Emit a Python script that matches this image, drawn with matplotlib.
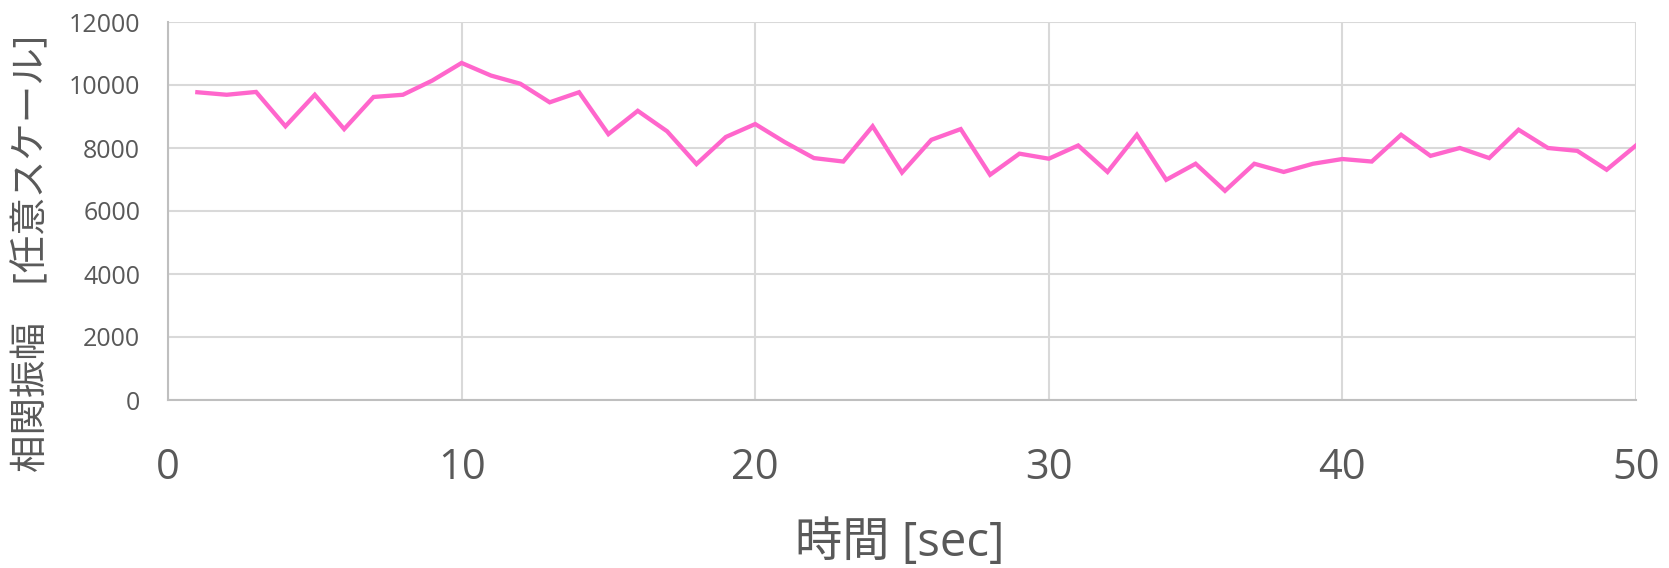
import matplotlib
matplotlib.use("Agg")
import matplotlib.pyplot as plt

plt.rcParams['font.family'] = ['Open Sans', 'Noto Sans CJK JP', 'DejaVu Sans']

# correlation amplitude sampled once per second
time_sec = list(range(1, 51))
amplitude = [
    9770, 9690, 9780, 8690, 9690, 8600, 9620, 9690, 10140, 10700,
    10300, 10040, 9450, 9770, 8440, 9180, 8530, 7490, 8350, 8760,
    8190, 7680, 7570, 8690, 7220, 8260, 8600, 7150, 7820, 7660,
    8080, 7240, 8420, 6990, 7500, 6640, 7500, 7240, 7500, 7650,
    7570, 8420, 7750, 8000, 7680, 8580, 8000, 7910, 7310, 8080,
]
x_ticks = [0, 10, 20, 30, 40, 50]
y_ticks = [0, 2000, 4000, 6000, 8000, 10000, 12000]

text_color = "#595959"
grid_color = "#d9d9d9"

W, H = 1669, 568
fig = plt.figure(figsize=(W / 100, H / 100), dpi=100)
left, right, top, bottom = 168, 1636, 22, 400
ax = fig.add_axes([left / W, 1 - bottom / H, (right - left) / W, (bottom - top) / H])

ax.plot(time_sec, amplitude, color="#ff66cc", linewidth=3.1, solid_joinstyle="miter", zorder=3)

ax.set_xlim(0, 50)
ax.set_ylim(0, 12000)
ax.set_xticks(x_ticks)
ax.set_yticks(y_ticks)
ax.grid(True, color=grid_color, linewidth=1.5)
ax.set_axisbelow(True)

for side in ["top", "right"]:
    ax.spines[side].set_visible(False)
for side in ["left", "bottom"]:
    ax.spines[side].set_color("#bfbfbf")
    ax.spines[side].set_linewidth(1.5)

ax.tick_params(axis="x", length=0, pad=34, labelsize=30, labelcolor=text_color)
ax.tick_params(axis="y", length=0, pad=20, labelsize=18, labelcolor=text_color)

fig.text(900 / W, 1 - 543 / H, "時間 [sec]", ha="center", va="center",
         fontsize=34, color=text_color)
fig.text(32 / W, 1 - 253 / H, "相関振幅　[任意スケール]", ha="center", va="center",
         rotation=90, fontsize=27, color=text_color)

fig.savefig("out.png", dpi=100, facecolor="white")
